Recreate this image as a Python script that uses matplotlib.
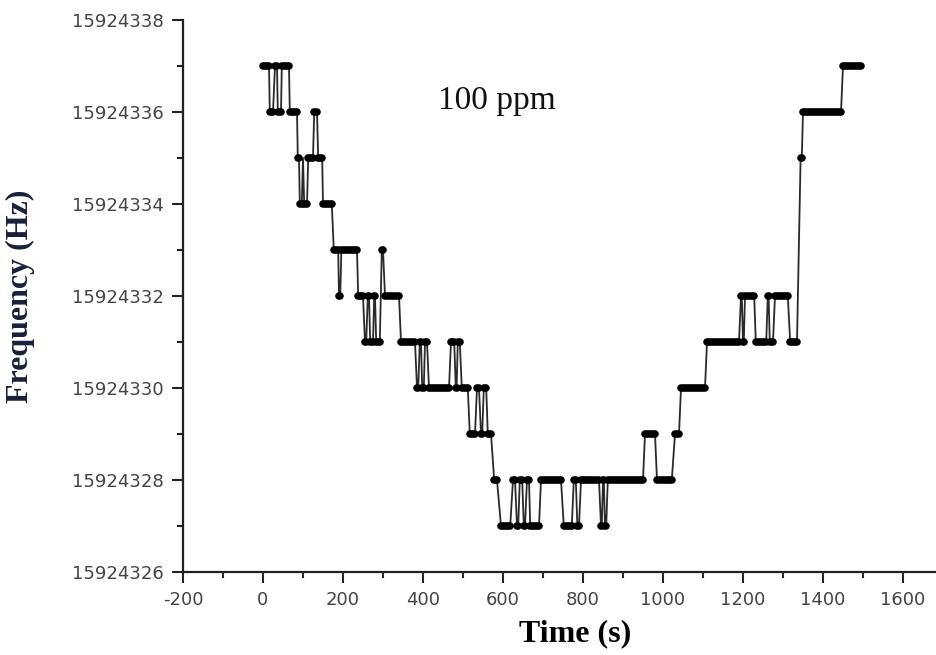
import numpy as np
import matplotlib
matplotlib.use('Agg')
import matplotlib.pyplot as plt
from matplotlib.ticker import MultipleLocator, FormatStrFormatter
#-------------------------------------------------------------------------------
# step runs: first sample time, last sample time, level (Hz)
run_start = [0, 17, 30, 37, 47, 67, 87, 92, 100, 103, 113, 128, 138, 150,
             177, 190, 196, 238, 255, 262, 268, 278, 283, 297, 305, 345, 385,
             392, 398, 405, 415, 470, 482, 487, 497, 517, 535, 545, 552, 562,
             578, 595, 625, 635, 642, 652, 660, 668, 695, 752, 777, 786, 795,
             845, 850, 855, 862, 955, 985, 1030, 1045, 1110, 1195, 1200, 1205,
             1232, 1262, 1267, 1280, 1318, 1344, 1350, 1450]
run_end = [15, 25, 35, 45, 65, 85, 90, 97, 100, 110, 125, 135, 148, 172,
           188, 193, 235, 250, 258, 265, 275, 280, 292, 300, 340, 380, 388,
           395, 402, 410, 465, 478, 484, 492, 512, 530, 540, 548, 558, 570,
           585, 618, 630, 638, 648, 655, 665, 690, 745, 772, 782, 790, 840,
           847, 852, 858, 950, 980, 1022, 1040, 1105, 1190, 1197, 1202, 1228,
           1258, 1264, 1275, 1312, 1335, 1347, 1445, 1495]
run_level = [337, 336, 337, 336, 337, 336, 335, 334, 335, 334, 335, 336, 335, 334,
             333, 332, 333, 332, 331, 332, 331, 332, 331, 333, 332, 331, 330,
             331, 330, 331, 330, 331, 330, 331, 330, 329, 330, 329, 330, 329,
             328, 327, 328, 327, 328, 327, 328, 327, 328, 327, 328, 327, 328,
             327, 328, 327, 328, 329, 328, 329, 330, 331, 332, 331, 332,
             331, 332, 331, 332, 331, 335, 336, 337]
base = 15924000
run_level = [base + v for v in run_level]

x_ticks = [-200, 0, 200, 400, 600, 800, 1000, 1200, 1400, 1600]
y_ticks = [15924326, 15924328, 15924330, 15924332, 15924334, 15924336, 15924338]
#-------------------------------------------------------------------------------
plt.rcParams['axes.unicode_minus'] = False
fig = plt.figure(figsize=(9.37, 6.55), dpi=100)
ax = fig.add_axes([183/937, (655-572)/655, 1-183/937, (572-20)/655])

# thin connecting line through all run end points
px, py = [], []
for s, e, v in zip(run_start, run_end, run_level):
    px += [s, e]
    py += [v, v]
ax.plot(px, py, '-', color='#2a2a2a', lw=1.3, zorder=2)

# dense markers look like thick bars
for s, e, v in zip(run_start, run_end, run_level):
    ax.plot([s, e], [v, v], '-', color='black', lw=5.5,
            solid_capstyle='round', zorder=3)

ax.text(585, 15924336.25, '100 ppm', family='Liberation Serif', fontsize=24,
        ha='center', va='center', color='#111111')

ax.set_xlim(-200, 1685)
ax.set_ylim(15924326, 15924338)
ax.set_xticks(x_ticks)
ax.set_yticks(y_ticks)
ax.xaxis.set_minor_locator(MultipleLocator(100))
ax.yaxis.set_minor_locator(MultipleLocator(1))
ax.yaxis.set_major_formatter(FormatStrFormatter('%d'))
ax.spines['top'].set_visible(False)
ax.spines['right'].set_visible(False)
for sp in ['left', 'bottom']:
    ax.spines[sp].set_linewidth(1.6)
    ax.spines[sp].set_color('#222222')
ax.tick_params(which='major', direction='out', length=8, width=1.5,
               color='#222222', labelsize=13, labelcolor='#444444', pad=6)
ax.tick_params(which='minor', direction='out', length=4, width=1.5, color='#222222')
ax.set_xlabel('Time (s)', family='Liberation Serif', fontweight='bold',
              fontsize=23)
ax.set_ylabel('Frequency (Hz)', family='Liberation Serif', fontweight='bold',
              fontsize=23, color='#1a1f3a')
ax.xaxis.set_label_coords((575-183)/(937-183), -0.085)
ax.yaxis.set_label_coords(-(183-35)/(937-183), 0.5)

fig.savefig('out.png', dpi=100)
